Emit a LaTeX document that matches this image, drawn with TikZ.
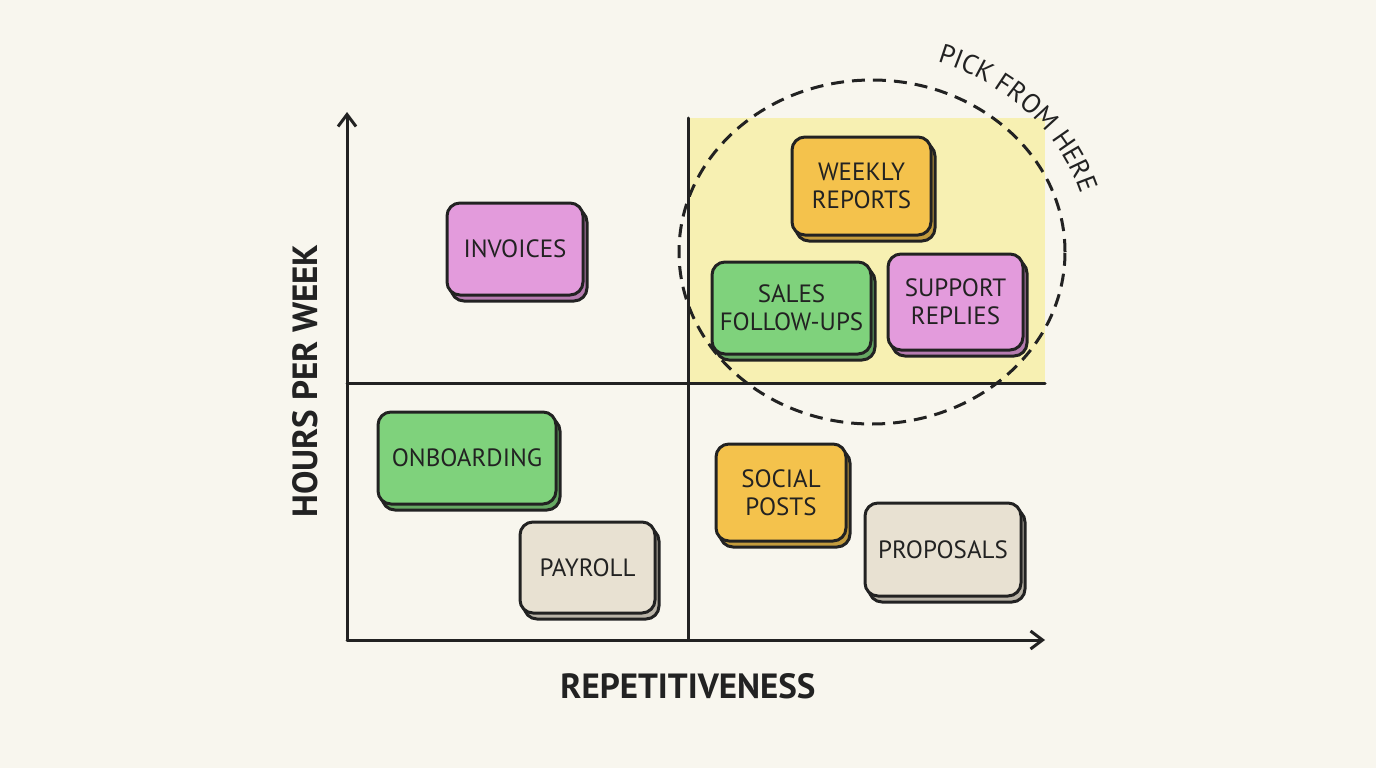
\documentclass[tikz,border=0pt]{standalone}
\usepackage{fontspec}
\setmainfont{PT Sans}
\usetikzlibrary{arrows.meta,decorations.text}
\definecolor{bg}{HTML}{F8F6EE}
\definecolor{ink}{HTML}{222222}
\definecolor{hl}{HTML}{F7F0B2}
\definecolor{cpink}{HTML}{E39BDC}
\definecolor{corange}{HTML}{F4C24C}
\definecolor{cgreen}{HTML}{7FD27C}
\definecolor{cbeige}{HTML}{E8E1D2}
\tikzset{
  ax/.style={line width=3pt,draw=ink,line cap=round},
  card/.style={line width=3pt,draw=ink,rounded corners=13pt},
  lbl/.style={font=\fontsize{25}{28}\selectfont,text=ink,align=center},
}
\newcommand{\mycard}[7]{%
  \draw[card,fill=#6!80!black] ({#2+4},{-#3-6}) rectangle ({#4+4},{-#5-6});
  \draw[card,fill=#6] (#2,-#3) rectangle (#4,-#5);
  \node[lbl] (#1) at ({(#2+#4)/2},{-(#3+#5)/2}) {#7};}
\begin{document}
\begin{tikzpicture}[x=1pt,y=1pt]
\fill[bg] (0,0) rectangle (1376,-768);
\useasboundingbox (0,0) rectangle (1376,-768);
\fill[hl] (688,-118) rectangle (1045,-383);
\draw[line width=3pt,draw=ink,dash pattern=on 13pt off 8pt] (872,-252) ellipse [x radius=193, y radius=172];
\path[postaction={decorate},decoration={text along path,text align=center,
  text={|\fontsize{27}{30}\selectfont\color{ink}|PICK FROM HERE}}]
  (872,-252) ++(80:200) arc[start angle=80,end angle=8,x radius=222,y radius=200];
\coordinate (o) at (347,-640);
\coordinate (ytop) at (347,-112);
\coordinate (xend) at (1045,-640);
\coordinate (vtop) at (688,-118);
\coordinate (vbot) at (688,-640);
\coordinate (hl) at (347,-383);
\coordinate (hr) at (1045,-383);
\draw[ax,-{Straight Barb[length=12pt,width=18pt,line width=3pt]}] (o) -- (ytop);
\draw[ax,-{Straight Barb[length=12pt,width=18pt,line width=3pt]}] (o) -- (xend);
\draw[ax] (vtop) -- (vbot);
\draw[ax] (hl) -- (hr);
\node[font=\fontsize{35}{38}\selectfont\bfseries,text=ink] (xl) at (688,-686) {REPETITIVENESS};
\node[font=\fontsize{35}{38}\selectfont\bfseries,text=ink,rotate=90] (yl) at (305,-381) {HOURS PER WEEK};
\mycard{inv}{447}{203}{583}{295}{cpink}{INVOICES}
\mycard{wr}{792}{137}{931}{235}{corange}{WEEKLY\\REPORTS}
\mycard{sf}{712}{262}{871}{354}{cgreen}{SALES\\FOLLOW-UPS}
\mycard{sr}{888}{254}{1023}{350}{cpink}{SUPPORT\\REPLIES}
\mycard{onb}{378}{412}{556}{504}{cgreen}{ONBOARDING}
\mycard{pay}{520}{522}{655}{613}{cbeige}{PAYROLL}
\mycard{sp}{716}{444}{846}{541}{corange}{SOCIAL\\POSTS}
\mycard{pro}{865}{503}{1021}{596}{cbeige}{PROPOSALS}
\end{tikzpicture}
\end{document}
